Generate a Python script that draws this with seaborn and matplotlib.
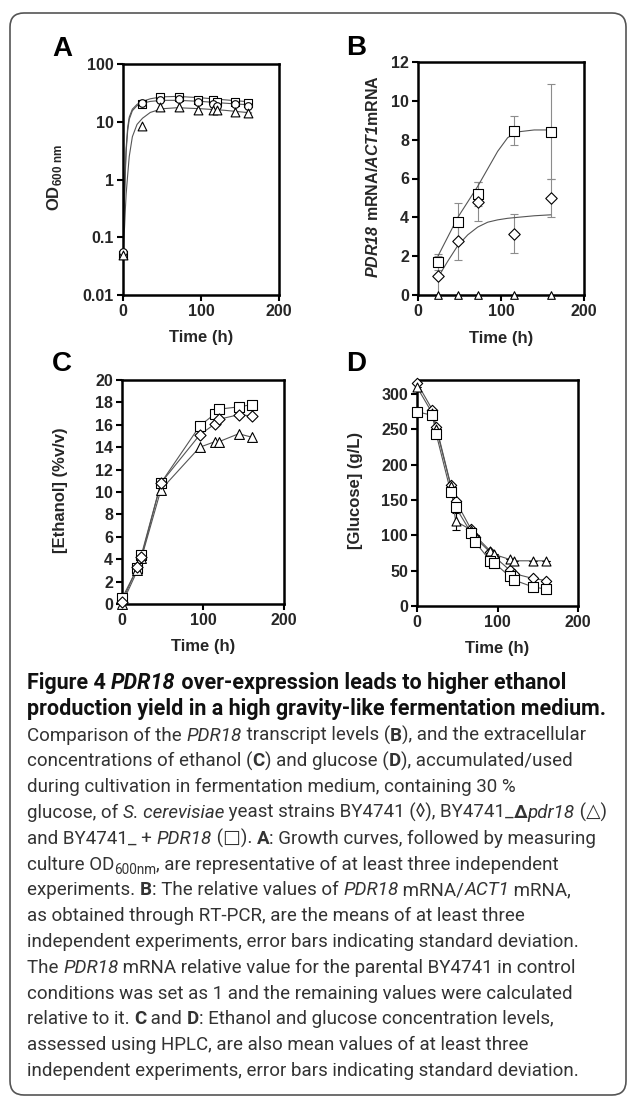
import matplotlib
matplotlib.use("Agg")
import matplotlib.pyplot as plt
import seaborn as sns
from matplotlib.patches import FancyBboxPatch
from matplotlib.transforms import IdentityTransform

#===== DATA ==========================================
# A: growth (OD600), markers and the fitted curves
a_time = [0, 24, 48, 72, 96, 115, 120, 144, 160]
a_wt = [0.055, 21, 24, 25, 22, 20, 19, 20, 19]
a_del = [0.05, 8.5, 18, 18, 16, 16, 16, 15, 14]
a_over = [0.05, 20, 27, 27, 24, 24, 22, 22, 21]
a_fit_time = [0, 1, 2, 3, 4, 6, 8, 12, 18, 25, 35, 50, 70, 100, 130, 165]
a_fit_wt = [0.06, 0.18, 0.5, 1.3, 3, 7, 11, 15.5, 19, 21, 22.5, 23.5, 23.5, 22.5, 21, 19.5]
a_fit_del = [0.05, 0.09, 0.15, 0.3, 0.55, 1.2, 2.5, 5.5, 9, 11.5, 14.5, 16.8, 17.5, 16.8, 15.8, 14.2]
a_fit_over = [0.06, 0.2, 0.6, 1.5, 3.5, 8, 12, 16.5, 20, 22.5, 25, 27, 27.5, 26, 24, 22]

# B: PDR18 mRNA / ACT1 mRNA
b_time = [24, 48, 72, 116, 160]
b_wt = [1.0, 2.8, 4.8, 3.15, 5.0]
b_wt_err = [1.0, 1.0, 1.0, 1.0, 1.0]
b_del = [0, 0, 0, 0, 0]
b_over = [1.7, 3.75, 5.2, 8.45, 8.42]
b_over_err = [0.4, 1.0, 0.6, 0.75, 2.45]
b_fit_time = [24, 36, 48, 60, 72, 84, 96, 108, 120, 140, 160]
b_fit_wt = [0.9, 1.75, 2.55, 3.1, 3.5, 3.75, 3.87, 3.95, 4.0, 4.08, 4.13]
b_fit_over = [2.0, 3.0, 4.0, 4.8, 5.6, 6.5, 7.4, 8.1, 8.4, 8.5, 8.5]

# C: ethanol (%v/v)
c_time = [0, 19, 24, 48, 96, 115, 120, 144, 160]
c_wt = [0.2, 3.3, 4.2, 10.8, 15.1, 16.1, 16.5, 16.9, 16.8]
c_del = [0.0, 3.0, 4.1, 10.2, 14.0, 14.5, 14.5, 15.2, 14.9]
c_over = [0.5, 3.2, 4.4, 10.8, 15.9, 17.0, 17.4, 17.6, 17.8]

# D: glucose (g/L)
d_time = [0, 19, 24, 42, 48, 67, 72, 91, 96, 115, 120, 144, 160]
d_wt = [316, 278, 254, 171, 149, 109, 97, 76, 70, 51, 46, 39, 36]
d_del = [310, 273, 251, 170, 120, 108, 100, 78, 73, 66, 64, 64, 64]
d_del_err = [0, 0, 0, 0, 12, 0, 0, 0, 0, 0, 0, 0, 0]
d_over = [275, 270, 243, 161, 140, 104, 91, 64, 61, 42, 37, 27, 24]

# caption: (text, style) pieces, b = bold, i = italic, s = subscript
title = [
    [("Figure 4 ", "b"), ("PDR18", "bi"), (" over-expression leads to higher ethanol", "b")],
    [("production yield in a high gravity-like fermentation medium.", "b")],
]
body = [
    [("Comparison of the ", ""), ("PDR18", "i"), (" transcript levels (", ""), ("B", "b"),
     ("), and the extracellular", "")],
    [("concentrations of ethanol (", ""), ("C", "b"), (") and glucose (", ""), ("D", "b"),
     ("), accumulated/used", "")],
    [("during cultivation in fermentation medium, containing 30 %", "")],
    [("glucose, of ", ""), ("S. cerevisiae", "i"), (" yeast strains BY4741 (\u25ca), BY4741_", ""),
     ("\u0394", "b"), ("pdr18", "i"), (" (\u25b3)", "")],
    [("and BY4741_ + ", ""), ("PDR18", "i"), (" (\u25a1). ", ""), ("A", "b"),
     (": Growth curves, followed by measuring", "")],
    [("culture OD", ""), ("600nm", "s"), (", are representative of at least three independent", "")],
    [("experiments. ", ""), ("B", "b"), (": The relative values of ", ""), ("PDR18", "i"),
     (" mRNA/", ""), ("ACT1", "i"), (" mRNA,", "")],
    [("as obtained through RT-PCR, are the means of at least three", "")],
    [("independent experiments, error bars indicating standard deviation.", "")],
    [("The ", ""), ("PDR18", "i"), (" mRNA relative value for the parental BY4741 in control", "")],
    [("conditions was set as 1 and the remaining values were calculated", "")],
    [("relative to it. ", ""), ("C", "b"), (" and ", ""), ("D", "b"),
     (": Ethanol and glucose concentration levels,", "")],
    [("assessed using HPLC, are also mean values of at least three", "")],
    [("independent experiments, error bars indicating standard deviation.", "")],
]

#===== STYLE =========================================
W, H = 628, 1099
sns.set_theme(style="ticks")
plt.rcParams['font.family'] = ['Liberation Sans', 'DejaVu Sans']
plt.rcParams['font.weight'] = 'bold'
plt.rcParams['axes.labelweight'] = 'bold'
plt.rcParams['mathtext.fontset'] = 'custom'
plt.rcParams['mathtext.rm'] = 'Liberation Sans'
plt.rcParams['mathtext.bf'] = 'Liberation Sans:bold'
plt.rcParams['mathtext.bfit'] = 'Liberation Sans:italic:bold'

CAP_FONT = ['Roboto', 'DejaVu Sans']
LINE = '#555555'
ERR = '#8c8c8c'
TICK_SIZE = 11.5
LABEL_SIZE = 12

fig = plt.figure(figsize=(W / 100, H / 100), dpi=100)
fig.patch.set_facecolor('white')


def px_axes(x0, y0, x1, y1):
    return fig.add_axes([x0 / W, 1 - y1 / H, (x1 - x0) / W, (y1 - y0) / H])


def style_axes(ax):
    for s in ax.spines.values():
        s.set_linewidth(1.8)
        s.set_color('black')
    ax.tick_params(direction='out', length=4, width=1.5, color='black',
                   labelsize=TICK_SIZE, pad=2.5, which='major')
    ax.tick_params(which='minor', length=0)
    ax.set_facecolor('white')


def markers(ax, x, y, mk, size, z):
    sns.scatterplot(x=x, y=y, ax=ax, marker=mk, s=size, color='white',
                    edgecolor='black', linewidth=0.8, zorder=z, clip_on=False,
                    legend=False)


def curve(ax, x, y):
    sns.lineplot(x=x, y=y, ax=ax, color=LINE, lw=0.8, sort=False,
                 estimator=None, zorder=2)


def labels(ax, ylabel, ycoord, xcoord=-0.19, ysize=LABEL_SIZE):
    ax.set_xlabel("Time (h)", fontsize=LABEL_SIZE)
    ax.set_ylabel(ylabel, fontsize=ysize)
    ax.xaxis.set_label_coords(0.5, xcoord)
    ax.xaxis.label.set_va('center')
    ax.yaxis.set_label_coords(ycoord, 0.51)
    ax.yaxis.label.set_va('center')


#===== PANEL A =======================================
ax = px_axes(123, 64, 279, 295)
ax.set_yscale('log')
for fit in (a_fit_over, a_fit_wt, a_fit_del):
    curve(ax, a_fit_time, fit)
markers(ax, a_time, a_over, 's', 34, 3)
markers(ax, a_time, a_wt, 'o', 30, 4)
markers(ax, a_time, a_del, '^', 40, 5)
ax.set_xlim(0, 200)
ax.set_ylim(0.01, 100)
ax.set_xticks([0, 100, 200])
ax.set_yticks([0.01, 0.1, 1, 10, 100], ["0.01", "0.1", "1", "10", "100"])
style_axes(ax)
labels(ax, r"$\mathbf{OD}_{\mathbf{600\ nm}}$", -0.44, -0.186)

#===== PANEL B =======================================
ax = px_axes(418, 62, 584, 295)
curve(ax, b_fit_time, b_fit_over)
curve(ax, b_fit_time, b_fit_wt)
ax.errorbar(b_time, b_over, yerr=b_over_err, fmt='none', ecolor=ERR,
            elinewidth=0.8, capsize=3, capthick=0.8, zorder=1.5)
ax.errorbar(b_time, b_wt, yerr=b_wt_err, fmt='none', ecolor=ERR,
            elinewidth=0.8, capsize=3, capthick=0.8, zorder=1.5)
markers(ax, b_time, b_over, 's', 62, 3)
markers(ax, b_time, b_wt, 'D', 34, 4)
markers(ax, b_time, b_del, '^', 30, 5)
ax.set_xlim(0, 200)
ax.set_ylim(0, 12)
ax.set_xticks([0, 100, 200])
ax.set_yticks(range(0, 13, 2))
style_axes(ax)
labels(ax, r"$\mathbfit{PDR18}\ \mathbf{mRNA/}\mathbfit{ACT1}\mathbf{mRNA}$", -0.27, -0.186,
       ysize=11.5)

#===== PANEL C =======================================
ax = px_axes(122, 380, 284, 604)
for series in (c_over, c_del, c_wt):
    curve(ax, c_time, series)
markers(ax, c_time, c_over, 's', 50, 3)
markers(ax, c_time, c_del, '^', 50, 4)
markers(ax, c_time, c_wt, 'D', 32, 5)
ax.set_xlim(0, 200)
ax.set_ylim(0, 20)
ax.set_xticks([0, 100, 200])
ax.set_yticks(range(0, 21, 2))
style_axes(ax)
labels(ax, "[Ethanol] (%v/v)", -0.38)

#===== PANEL D =======================================
ax = px_axes(417, 380, 578, 606)
for series in (d_wt, d_del, d_over):
    curve(ax, d_time, series)
ax.errorbar(d_time, d_del, yerr=d_del_err, fmt='none', ecolor='black',
            elinewidth=0.8, capsize=3, capthick=0.8, zorder=1.5)
markers(ax, d_time, d_wt, 'D', 28, 3)
markers(ax, d_time, d_del, '^', 42, 4)
markers(ax, d_time, d_over, 's', 44, 5)
ax.set_xlim(0, 200)
ax.set_ylim(0, 320)
ax.set_xticks([0, 100, 200])
ax.set_yticks(range(0, 301, 50))
style_axes(ax)
labels(ax, "[Glucose] (g/L)", -0.385)

#===== PANEL LETTERS =================================
for letter, (x, y) in zip("ABCD", [(62, 49), (356, 48), (62, 364), (356, 364)]):
    fig.text(x / W, 1 - y / H, letter, fontsize=20, fontweight='bold',
             ha='center', va='center', color='black')

#===== CAPTION =======================================
renderer = fig.canvas.get_renderer()


def seg_width(text, size, weight, fstyle):
    kw = dict(fontsize=size, fontweight=weight, fontstyle=fstyle, family=CAP_FONT)
    t1 = fig.text(0, 0, "|" + text + "|", **kw)
    t2 = fig.text(0, 0, "||", **kw)
    w = t1.get_window_extent(renderer).width - t2.get_window_extent(renderer).width
    t1.remove()
    t2.remove()
    return w


def line_width(parts, size):
    total = 0
    for text, st in parts:
        fs = size * 0.72 if 's' in st else size
        total += seg_width(text, fs, 'bold' if 'b' in st else 'normal',
                           'italic' if 'i' in st else 'normal')
    return total


def draw_line(parts, y, size, color):
    x = CAP_X
    for text, st in parts:
        weight = 'bold' if 'b' in st else 'normal'
        fstyle = 'italic' if 'i' in st else 'normal'
        fs = size * 0.72 if 's' in st else size
        dy = size * 0.22 * 100 / 72 if 's' in st else 0
        fig.text(x / W, 1 - (y + dy) / H, text, fontsize=fs, fontweight=weight,
                 fontstyle=fstyle, family=CAP_FONT, color=color,
                 ha='left', va='baseline')
        x += seg_width(text, fs, weight, fstyle)


CAP_X = 27
CAP_RIGHT = 609
# font sizes fitted so the widest lines end where the original's do
body_size = 10 * (CAP_RIGHT - CAP_X) / max(line_width(p, 10) for p in body)
title_size = 10 * (CAP_RIGHT - CAP_X) / line_width(title[1], 10)

cap_y0 = 689
cap_step = 25.8
for i, parts in enumerate(title + body):
    if i < len(title):
        draw_line(parts, cap_y0 + i * cap_step, title_size, '#111111')
    else:
        draw_line(parts, cap_y0 + i * cap_step, body_size, '#333333')

#===== BORDER ========================================
border = FancyBboxPatch((10, H - 1095), 616, 1082,
                        boxstyle="round,pad=0,rounding_size=14",
                        transform=IdentityTransform(), fill=False,
                        edgecolor='#555555', linewidth=1.2)
fig.add_artist(border)

fig.savefig("out.png", dpi=100)
